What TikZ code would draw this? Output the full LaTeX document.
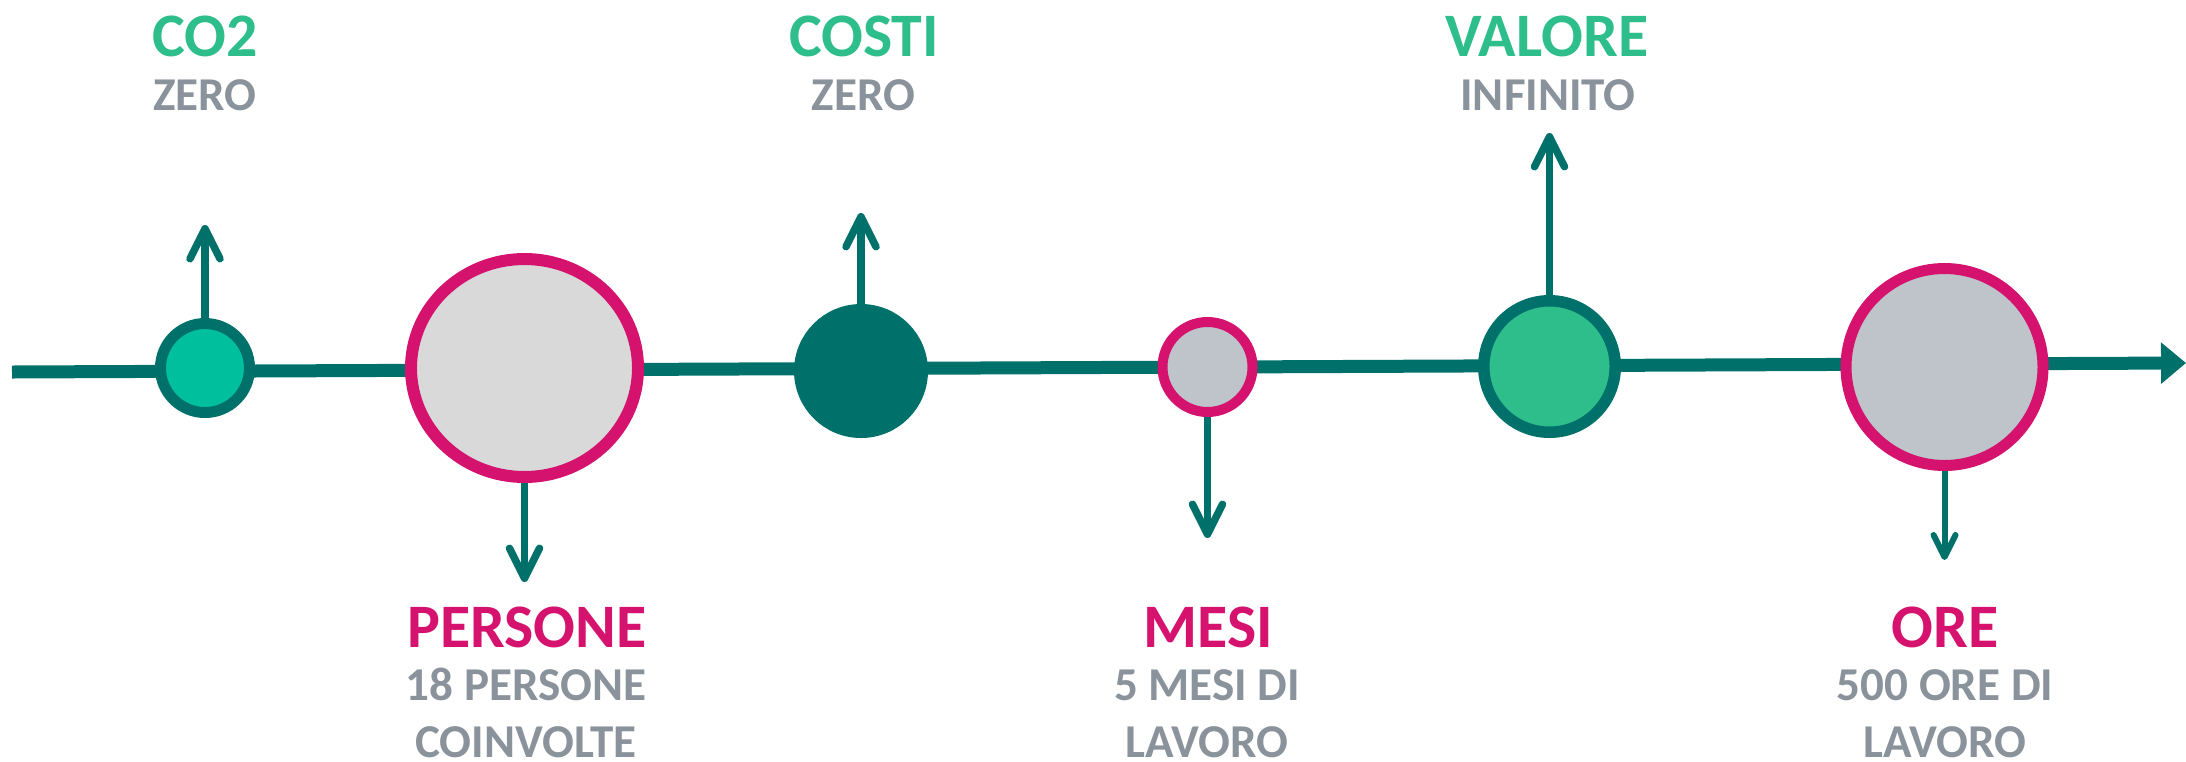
\documentclass[tikz,border=0pt]{standalone}
\usepackage{fontspec}
\setmainfont{Carlito}
\usetikzlibrary{arrows.meta,shapes.geometric}

\definecolor{tealdark}{HTML}{00716A}
\definecolor{mint}{HTML}{00BF9C}
\definecolor{leaf}{HTML}{2DBE8B}
\definecolor{magentared}{HTML}{D5136F}
\definecolor{slategray}{HTML}{8A929C}
\definecolor{paleg}{HTML}{D9D9D9}
\definecolor{silver}{HTML}{BFC3CA}

\begin{document}
\begin{tikzpicture}[
    dot/.style={circle, inner sep=0pt, line width=1.1mm},
    pointer/.style={draw=tealdark, line width=0.75mm,
      -{Straight Barb[length=3mm, width=3mm, round]}},
    title/.style={anchor=base, font=\fontsize{17.6}{20}\selectfont\bfseries},
    info/.style={anchor=base, align=center, text=slategray,
      font=\fontsize{13.4}{16.2}\selectfont\bfseries},
  ]
   % frame
   \useasboundingbox (0,0) rectangle (21.86,7.61);

   % time axis
   \coordinate (start) at (0.12,3.89);
   \coordinate (end) at (21.86,3.98);
   \draw[tealdark, line width=1.3mm, -{Triangle[length=2.5mm, width=4mm]}] (start) -- (end);

   % milestones
   \node[dot, minimum size=8.9mm, draw=tealdark, fill=mint] (co2) at (2.05,3.93) {};
   \node[ellipse, inner sep=0pt, line width=1.2mm, draw=magentared, fill=paleg,
     minimum width=22.7mm, minimum height=21.8mm] (persone) at (5.245,3.93) {};
   \node[dot, minimum size=12.3mm, draw=tealdark, fill=tealdark] (costi) at (8.61,3.9) {};
   \node[dot, minimum size=9mm, line width=1mm, draw=magentared, fill=silver] (mesi) at (12.075,3.94) {};
   \node[dot, minimum size=13.15mm, line width=1.15mm, draw=tealdark, fill=leaf] (valore) at (15.495,3.945) {};
   \node[dot, minimum size=19.7mm, draw=magentared, fill=silver] (ore) at (19.445,3.94) {};

   % pointer tips
   \coordinate (co2 tip) at (2.05,5.36);
   \coordinate (persone tip) at (5.245,1.79);
   \coordinate (costi tip) at (8.61,5.48);
   \coordinate (mesi tip) at (12.075,2.23);
   \coordinate (valore tip) at (15.495,6.28);
   \coordinate (ore tip) at (19.445,2.01);

   % draw pointers
   \draw[pointer] (co2.north) -- (co2 tip);
   \draw[pointer] (persone.south) -- (persone tip);
   \draw[pointer] (costi.north) -- (costi tip);
   \draw[pointer] (mesi.south) -- (mesi tip);
   \draw[pointer] (valore.north) -- (valore tip);
   \draw[pointer, line width=0.6mm,
     -{Straight Barb[length=2.2mm, width=2.2mm, round]}] (ore.south) -- (ore tip);

   % labels above
   \node[title, text=leaf] (co2 title) at (2.05,7.05) {CO2};
   \node[info] (co2 info) at (2.05,6.51) {ZERO};
   \node[title, text=leaf] (costi title) at (8.64,7.05) {COSTI};
   \node[info] (costi info) at (8.635,6.51) {ZERO};
   \node[title, text=leaf] (valore title) at (15.47,7.05) {VALORE};
   \node[info] (valore info) at (15.48,6.51) {INFINITO};

   % labels below (base = last line)
   \node[title, text=magentared] (persone title) at (5.27,1.14) {PERSONE};
   \node[info] (persone info) at (5.26,0.04) {18 PERSONE\\COINVOLTE};
   \node[title, text=magentared] (mesi title) at (12.08,1.14) {MESI};
   \node[info] (mesi info) at (12.07,0.04) {5 MESI DI\\LAVORO};
   \node[title, text=magentared] (ore title) at (19.45,1.14) {ORE};
   \node[info] (ore info) at (19.45,0.04) {500 ORE DI\\LAVORO};
\end{tikzpicture}
\end{document}
